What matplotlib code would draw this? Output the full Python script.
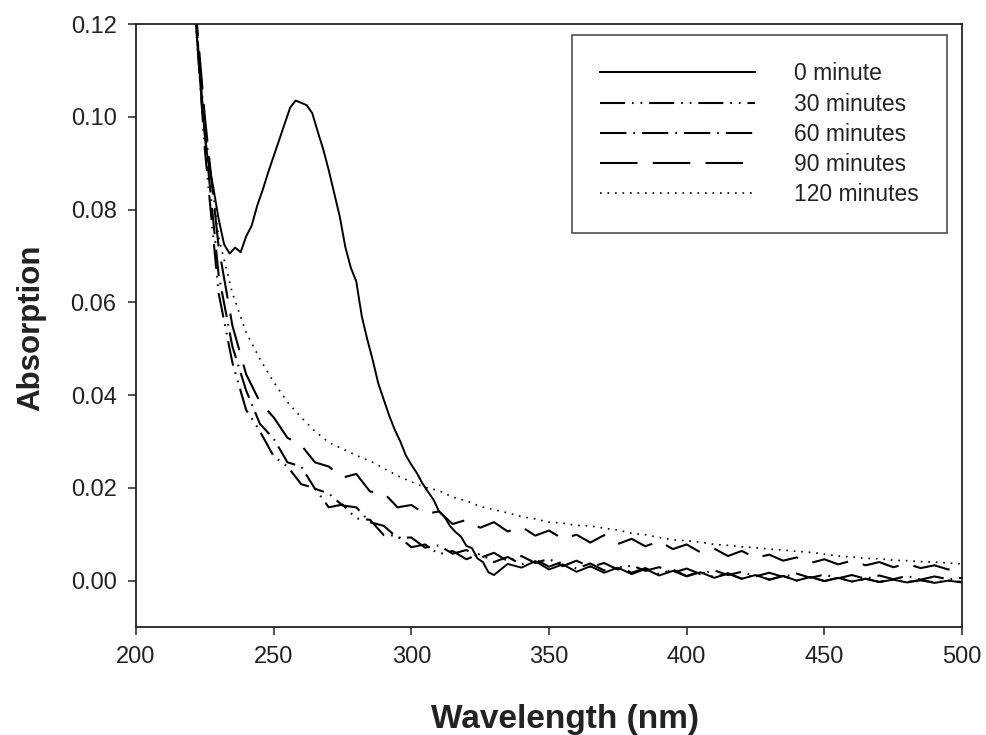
import matplotlib
matplotlib.use("Agg")
import matplotlib.pyplot as plt

plt.rcParams['font.family'] = ['Liberation Sans', 'DejaVu Sans']
plt.rcParams['lines.scale_dashes'] = False

# ---- data ----
wl_0 = [220, 222, 224, 226, 228, 230, 232, 234, 236, 238, 240, 242, 244, 246, 248,
        250, 252, 254, 256, 258, 260, 262, 264, 266, 268, 270, 272, 274, 276, 278,
        280, 282, 284, 286, 288, 290, 292, 294, 296, 298, 300, 302, 304, 306, 308,
        310, 312, 314, 316, 318, 320, 322, 324, 326, 328, 330, 335, 340, 345, 350,
        355, 360, 365, 370, 375, 380, 385, 390, 395, 400, 405, 410, 415, 420, 425,
        430, 435, 440, 445, 450, 455, 460, 465, 470, 475, 480, 485, 490, 495, 500]
abs_0 = [0.135, 0.118, 0.102, 0.091, 0.085, 0.078, 0.0725, 0.0705, 0.0718, 0.0708,
         0.0742, 0.0765, 0.0808, 0.0842, 0.0880, 0.0915, 0.0950, 0.0985, 0.1020, 0.1035,
         0.1030, 0.1025, 0.1008, 0.0968, 0.0930, 0.0885, 0.0835, 0.0785, 0.0720, 0.0675,
         0.0645, 0.0570, 0.0520, 0.0475, 0.0425, 0.0390, 0.0355, 0.0325, 0.0300, 0.0270,
         0.0250, 0.0232, 0.0210, 0.0192, 0.0175, 0.0150, 0.0138, 0.0118, 0.0105, 0.0095,
         0.0075, 0.0070, 0.0048, 0.0040, 0.0018, 0.0012, 0.0036, 0.0028, 0.0042, 0.0024,
         0.0035, 0.0019, 0.0031, 0.0017, 0.0028, 0.0014, 0.0025, 0.0011, 0.0021, 0.0009,
         0.0018, 0.0006, 0.0015, 0.0004, 0.0012, 0.0002, 0.0010, 0.0000, 0.0008, -0.0001,
         0.0006, -0.0002, 0.0004, -0.0003, 0.0002, -0.0004, 0.0001, -0.0005, 0.0000, -0.0004]

wl = [220, 225, 230, 235, 240, 245, 250, 255, 260, 265, 270, 275, 280, 285, 290,
      295, 300, 305, 310, 315, 320, 325, 330, 335, 340, 345, 350, 355, 360, 365,
      370, 375, 380, 385, 390, 395, 400, 405, 410, 415, 420, 425, 430, 435, 440,
      445, 450, 455, 460, 465, 470, 475, 480, 485, 490, 495, 500]

abs_30 = [0.135, 0.093, 0.062, 0.047, 0.0368, 0.0322, 0.0268, 0.0246, 0.0208, 0.0199,
          0.0158, 0.0164, 0.0134, 0.0131, 0.0098, 0.0097, 0.0072, 0.0078, 0.0057, 0.0064,
          0.0046, 0.0058, 0.0040, 0.0051, 0.0035, 0.0046, 0.0030, 0.0041, 0.0026, 0.0037,
          0.0022, 0.0032, 0.0017, 0.0027, 0.0014, 0.0024, 0.0010, 0.0020, 0.0007, 0.0016,
          0.0004, 0.0013, 0.0002, 0.0010, 0.0000, 0.0008, -0.0001, 0.0006, -0.0002, 0.0004,
          -0.0003, 0.0003, -0.0003, 0.0001, -0.0004, 0.0000, -0.0003]

abs_60 = [0.135, 0.096, 0.066, 0.0505, 0.0410, 0.0338, 0.0306, 0.0255, 0.0246, 0.0198,
          0.0188, 0.0162, 0.0158, 0.0126, 0.0118, 0.0092, 0.0093, 0.0071, 0.0076, 0.0058,
          0.0066, 0.0049, 0.0060, 0.0042, 0.0053, 0.0038, 0.0047, 0.0031, 0.0043, 0.0029,
          0.0038, 0.0024, 0.0033, 0.0021, 0.0029, 0.0017, 0.0026, 0.0014, 0.0022, 0.0012,
          0.0019, 0.0009, 0.0017, 0.0008, 0.0015, 0.0006, 0.0013, 0.0005, 0.0012, 0.0004,
          0.0011, 0.0003, 0.0010, 0.0002, 0.0009, 0.0003, 0.0006]

abs_90 = [0.135, 0.100, 0.072, 0.055, 0.0445, 0.0385, 0.0352, 0.0308, 0.0292, 0.0255,
          0.0246, 0.0222, 0.0230, 0.0192, 0.0189, 0.0158, 0.0163, 0.0144, 0.0149, 0.0122,
          0.0131, 0.0114, 0.0126, 0.0106, 0.0116, 0.0097, 0.0108, 0.0090, 0.0099, 0.0082,
          0.0098, 0.0079, 0.0090, 0.0074, 0.0085, 0.0068, 0.0078, 0.0061, 0.0069, 0.0053,
          0.0064, 0.0049, 0.0056, 0.0043, 0.0050, 0.0038, 0.0046, 0.0035, 0.0043, 0.0033,
          0.0040, 0.0029, 0.0036, 0.0027, 0.0033, 0.0024, 0.0027]

abs_120 = [0.135, 0.098, 0.074, 0.062, 0.0535, 0.0478, 0.0428, 0.0385, 0.0352, 0.0322,
           0.0298, 0.0284, 0.0270, 0.0258, 0.0242, 0.0226, 0.0213, 0.0201, 0.0194, 0.0180,
           0.0172, 0.0160, 0.0153, 0.0146, 0.0138, 0.0133, 0.0126, 0.0124, 0.0119, 0.0118,
           0.0113, 0.0109, 0.0102, 0.0099, 0.0093, 0.0088, 0.0086, 0.0083, 0.0078, 0.0076,
           0.0073, 0.0071, 0.0068, 0.0066, 0.0063, 0.0061, 0.0057, 0.0053, 0.0051, 0.0048,
           0.0047, 0.0044, 0.0043, 0.0041, 0.0040, 0.0038, 0.0036]

labels = ["0 minute", "30 minutes", "60 minutes", "90 minutes", "120 minutes"]
x_ticks = [200, 250, 300, 350, 400, 450, 500]
y_ticks = [0.00, 0.02, 0.04, 0.06, 0.08, 0.10, 0.12]

# ---- figure ----
fig = plt.figure(figsize=(9.87, 7.35), dpi=100)
ax = fig.add_axes([136/987, 1-627/735, 826/987, 603/735])

lw = 1.5
ax.plot(wl_0, abs_0, color='black', lw=1.4, ls='-', label=labels[0])
ax.plot(wl, abs_30, color='black', lw=lw, ls=(0, (18, 5, 1.2, 5, 1.2, 5)), label=labels[1])
ax.plot(wl, abs_60, color='black', lw=lw, ls=(0, (19, 5, 1.2, 5)), label=labels[2])
ax.plot(wl, abs_90, color='black', lw=lw, ls=(0, (27, 11)), label=labels[3])
ax.plot(wl, abs_120, color='black', lw=1.2, ls=(0, (1.2, 4.2)), label=labels[4])

ax.set_xlim(200, 500)
ax.set_ylim(-0.01, 0.12)
ax.set_xticks(x_ticks)
ax.set_yticks(y_ticks)
ax.set_yticklabels([f"{v:.2f}" for v in y_ticks])
ax.tick_params(direction='out', length=6, width=1.1, labelsize=17, pad=8,
               top=False, right=False, colors='#222222')
for s in ax.spines.values():
    s.set_linewidth(1.3)
    s.set_color('#222222')

ax.set_xlabel("Wavelength (nm)", fontsize=24, fontweight='bold', color='#222222')
ax.set_ylabel("Absorption", fontsize=22.5, fontweight='bold', color='#222222')
ax.xaxis.set_label_coords(0.519, -0.127)
ax.yaxis.set_label_coords(-0.109, 0.496)

leg = ax.legend(loc='upper left', bbox_to_anchor=(572/987, 1-35/735),
                bbox_transform=fig.transFigure, fontsize=16.5, frameon=True,
                fancybox=False, edgecolor='#222222', handlelength=6.8,
                handletextpad=1.7, labelspacing=0.31, borderpad=1.2,
                borderaxespad=0.0)
leg.get_frame().set_linewidth(1.2)
for t in leg.get_texts():
    t.set_color('#222222')

fig.savefig("out.png", dpi=100)
